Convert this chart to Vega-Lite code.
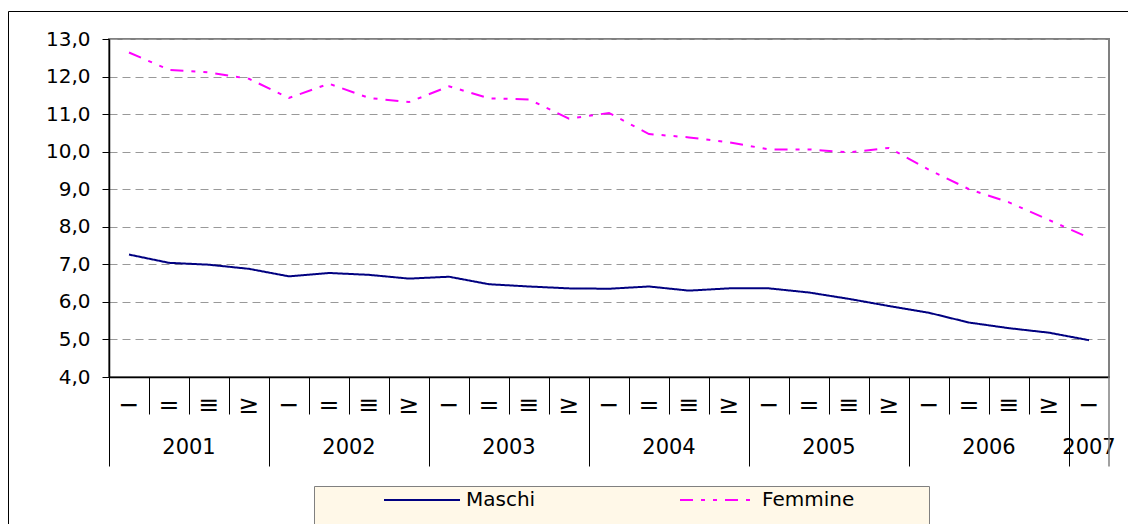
{
  "$schema": "https://vega.github.io/schema/vega-lite/v6.json",
  "autosize": {"type": "none"},
  "width": 1000,
  "height": 338,
  "padding": {"left": 109, "top": 39, "right": 19, "bottom": 147},
  "background": "white",
  "config": {
    "font": "DejaVu Sans",
    "view": {"stroke": "#808080", "strokeWidth": 2}
  },
  "resolve": {"axis": {"x": "independent", "y": "independent"}},
  "layer": [
    {
      "data": {
        "values": [
          {"trimestre": "2001Q1", "sesso": "Maschi", "tasso": 7.26},
          {"trimestre": "2001Q2", "sesso": "Maschi", "tasso": 7.04},
          {"trimestre": "2001Q3", "sesso": "Maschi", "tasso": 6.99},
          {"trimestre": "2001Q4", "sesso": "Maschi", "tasso": 6.88},
          {"trimestre": "2002Q1", "sesso": "Maschi", "tasso": 6.68},
          {"trimestre": "2002Q2", "sesso": "Maschi", "tasso": 6.77},
          {"trimestre": "2002Q3", "sesso": "Maschi", "tasso": 6.72},
          {"trimestre": "2002Q4", "sesso": "Maschi", "tasso": 6.62},
          {"trimestre": "2003Q1", "sesso": "Maschi", "tasso": 6.67},
          {"trimestre": "2003Q2", "sesso": "Maschi", "tasso": 6.47},
          {"trimestre": "2003Q3", "sesso": "Maschi", "tasso": 6.41},
          {"trimestre": "2003Q4", "sesso": "Maschi", "tasso": 6.36},
          {"trimestre": "2004Q1", "sesso": "Maschi", "tasso": 6.35},
          {"trimestre": "2004Q2", "sesso": "Maschi", "tasso": 6.41},
          {"trimestre": "2004Q3", "sesso": "Maschi", "tasso": 6.30},
          {"trimestre": "2004Q4", "sesso": "Maschi", "tasso": 6.36},
          {"trimestre": "2005Q1", "sesso": "Maschi", "tasso": 6.36},
          {"trimestre": "2005Q2", "sesso": "Maschi", "tasso": 6.25},
          {"trimestre": "2005Q3", "sesso": "Maschi", "tasso": 6.08},
          {"trimestre": "2005Q4", "sesso": "Maschi", "tasso": 5.89},
          {"trimestre": "2006Q1", "sesso": "Maschi", "tasso": 5.71},
          {"trimestre": "2006Q2", "sesso": "Maschi", "tasso": 5.45},
          {"trimestre": "2006Q3", "sesso": "Maschi", "tasso": 5.30},
          {"trimestre": "2006Q4", "sesso": "Maschi", "tasso": 5.18},
          {"trimestre": "2007Q1", "sesso": "Maschi", "tasso": 4.98},
          {"trimestre": "2001Q1", "sesso": "Femmine", "tasso": 12.64},
          {"trimestre": "2001Q2", "sesso": "Femmine", "tasso": 12.18},
          {"trimestre": "2001Q3", "sesso": "Femmine", "tasso": 12.11},
          {"trimestre": "2001Q4", "sesso": "Femmine", "tasso": 11.94},
          {"trimestre": "2002Q1", "sesso": "Femmine", "tasso": 11.43},
          {"trimestre": "2002Q2", "sesso": "Femmine", "tasso": 11.81},
          {"trimestre": "2002Q3", "sesso": "Femmine", "tasso": 11.43},
          {"trimestre": "2002Q4", "sesso": "Femmine", "tasso": 11.32},
          {"trimestre": "2003Q1", "sesso": "Femmine", "tasso": 11.74},
          {"trimestre": "2003Q2", "sesso": "Femmine", "tasso": 11.42},
          {"trimestre": "2003Q3", "sesso": "Femmine", "tasso": 11.39},
          {"trimestre": "2003Q4", "sesso": "Femmine", "tasso": 10.88},
          {"trimestre": "2004Q1", "sesso": "Femmine", "tasso": 11.03},
          {"trimestre": "2004Q2", "sesso": "Femmine", "tasso": 10.47},
          {"trimestre": "2004Q3", "sesso": "Femmine", "tasso": 10.38},
          {"trimestre": "2004Q4", "sesso": "Femmine", "tasso": 10.25},
          {"trimestre": "2005Q1", "sesso": "Femmine", "tasso": 10.06},
          {"trimestre": "2005Q2", "sesso": "Femmine", "tasso": 10.06},
          {"trimestre": "2005Q3", "sesso": "Femmine", "tasso": 9.98},
          {"trimestre": "2005Q4", "sesso": "Femmine", "tasso": 10.10},
          {"trimestre": "2006Q1", "sesso": "Femmine", "tasso": 9.52},
          {"trimestre": "2006Q2", "sesso": "Femmine", "tasso": 9.00},
          {"trimestre": "2006Q3", "sesso": "Femmine", "tasso": 8.65},
          {"trimestre": "2006Q4", "sesso": "Femmine", "tasso": 8.18},
          {"trimestre": "2007Q1", "sesso": "Femmine", "tasso": 7.71}
        ]
      },
      "mark": {"type": "line", "strokeWidth": 2},
      "encoding": {
        "x": {
          "field": "trimestre",
          "type": "ordinal",
          "scale": {"type": "band", "paddingInner": 0, "paddingOuter": 0},
          "axis": {
            "orient": "bottom",
            "title": null,
            "bandPosition": 0,
            "grid": false,
            "domainColor": "black",
            "domainWidth": 1.5,
            "tickColor": "black",
            "tickWidth": 1,
            "tickSize": {"condition": {"test": "substring(datum.value, 4, 6) == 'Q1'", "value": 89}, "value": 37},
            "labelExpr": "substring(datum.value, 4, 6) == 'Q1' ? '−' : substring(datum.value, 4, 6) == 'Q2' ? '=' : substring(datum.value, 4, 6) == 'Q3' ? '≡' : '≥'",
            "labelOffset": 0,
            "labelAngle": 0,
            "labelFontSize": 25,
            "labelColor": "black",
            "labelBaseline": "middle",
            "labelPadding": {"condition": {"test": "substring(datum.value, 4, 6) == 'Q1'", "value": -62}, "value": -10},
            "labelOverlap": false
          }
        },
        "y": {
          "field": "tasso",
          "type": "quantitative",
          "scale": {"domain": [4, 13], "nice": false, "zero": false},
          "axis": {
            "title": null,
            "values": [4, 5, 6, 7, 8, 9, 10, 11, 12, 13],
            "labelExpr": "replace(format(datum.value, '.1f'), '.', ',')",
            "labelFontSize": 20,
            "labelColor": "black",
            "labelPadding": 12,
            "labelOverlap": false,
            "tickSize": 7,
            "tickColor": "black",
            "domainColor": "black",
            "domainWidth": 1.5,
            "grid": true,
            "gridColor": "#999999",
            "gridDash": [8, 5],
            "gridWidth": 1
          }
        },
        "color": {
          "field": "sesso",
          "type": "nominal",
          "scale": {"domain": ["Maschi", "Femmine"], "range": ["#000080", "#FF00FF"]},
          "legend": {
            "orient": "none",
            "legendX": 205,
            "legendY": 447,
            "direction": "horizontal",
            "title": " ",
            "titleOrient": "right",
            "titleFontSize": 40,
            "titlePadding": 71,
            "fillColor": "#FFF8E8",
            "strokeColor": "#808080",
            "padding": 4,
            "clipHeight": 20,
            "symbolOffset": 65,
            "symbolType": "stroke",
            "symbolSize": 5776,
            "symbolStrokeWidth": 2,
            "labelFontSize": 20,
            "labelColor": "black",
            "labelOffset": 5,
            "labelLimit": 400,
            "columnPadding": 78
          }
        },
        "strokeDash": {
          "field": "sesso",
          "type": "nominal",
          "scale": {"domain": ["Maschi", "Femmine"], "range": [[1, 0], [13, 8, 4, 8, 4, 8]]}
        }
      }
    },
    {
      "data": {"values": [{"trimestre": "2007Q1", "cornice": "area del grafico"}]},
      "mark": {"type": "rule", "color": "#808080", "strokeWidth": 1.5},
      "encoding": {
        "x": {
          "field": "trimestre",
          "type": "ordinal",
          "bandPosition": 1,
          "axis": {
            "orient": "bottom",
            "title": null,
            "values": ["2001Q1", "2002Q1", "2003Q1", "2004Q1", "2005Q1", "2006Q1", "2007Q1"],
            "bandPosition": 0,
            "ticks": false,
            "tickSize": 0,
            "domain": false,
            "grid": false,
            "labelExpr": "substring(datum.value, 0, 4)",
            "labelOffset": {"condition": {"test": "datum.value == '2007Q1'", "value": 0}, "value": 60},
            "labelAngle": 0,
            "labelFontSize": 21,
            "labelColor": "black",
            "labelBaseline": "middle",
            "labelPadding": 70,
            "labelOverlap": false,
            "labelBound": false
          }
        },
        "y": {"datum": 4, "type": "quantitative", "axis": null},
        "y2": {"datum": 1.62},
        "opacity": {
          "field": "cornice",
          "type": "nominal",
          "scale": {"range": [1, 1]},
          "legend": {
            "orient": "none",
            "legendX": -101,
            "legendY": -28,
            "title": null,
            "padding": 700,
            "strokeColor": "black",
            "fillColor": "transparent",
            "symbolOpacity": 0,
            "labelOpacity": 0
          }
        }
      }
    }
  ]
}
